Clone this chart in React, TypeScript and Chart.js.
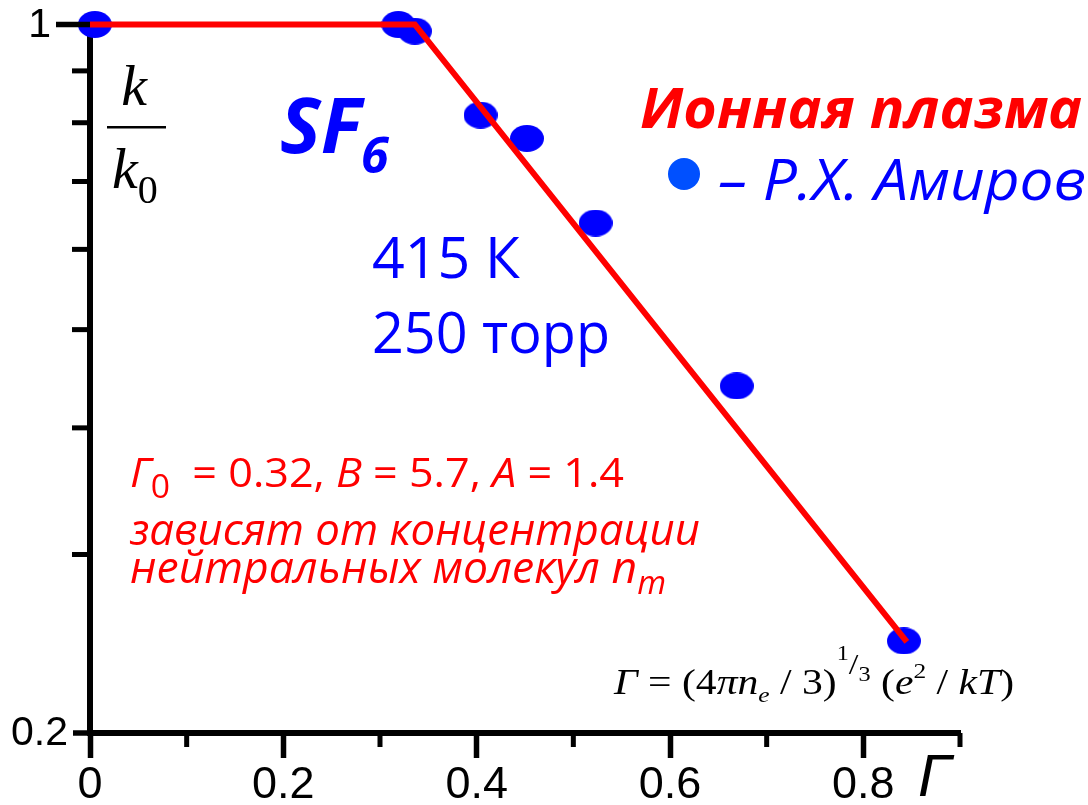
import React, { useEffect, useRef } from "react";
import { Chart, registerables } from "chart.js";

Chart.register(...registerables);

// Measured rate ratio k/k0 against the plasma parameter Г (SF6, 415 K, 250 torr)
const gammaObs = [0.005, 0.319, 0.336, 0.404, 0.452, 0.523, 0.669, 0.842];
const kRatioObs = [1.0, 1.0, 0.985, 0.814, 0.772, 0.637, 0.44, 0.2465];

// Piecewise fit: flat up to Г0, then falling
const gammaFit = [0, 0.336, 0.845];
const kRatioFit = [1.0, 1.0, 0.246];

// Axis ticks
const xMajorTicks = [0, 0.2, 0.4, 0.6, 0.8];
const xMinorTicks = [0.1, 0.3, 0.5, 0.7, 0.9];
const yMajorTicks = [0.2, 1];
const yMinorTicks = [0.3, 0.4, 0.5, 0.6, 0.7, 0.8, 0.9];

const SANS = '"Open Sans", "Noto Sans", sans-serif';
const SERIF = '"Liberation Serif", "DejaVu Serif", serif';
const ARIAL = '"Liberation Sans", Arial, sans-serif';
const RED = "#ff0000";
const BLUE = "#0000ff";

type Run = { t: string; font: string; dy?: number };

// Draws a sequence of differently styled text runs on one baseline,
// optionally squeezed/stretched horizontally to a given width.
function drawRuns(
  ctx: CanvasRenderingContext2D,
  runs: Run[],
  x: number,
  y: number,
  color: string,
  width?: number
) {
  ctx.save();
  ctx.fillStyle = color;
  ctx.textAlign = "left";
  ctx.textBaseline = "alphabetic";
  let total = 0;
  const ws = runs.map((r) => {
    ctx.font = r.font;
    const w = ctx.measureText(r.t).width;
    total += w;
    return w;
  });
  ctx.translate(x, y);
  if (width) ctx.scale(width / total, 1);
  let cx = 0;
  runs.forEach((r, i) => {
    ctx.font = r.font;
    ctx.fillText(r.t, cx, r.dy || 0);
    cx += ws[i];
  });
  ctx.restore();
}

function makeDot(w: number, h: number, color: string) {
  const c = document.createElement("canvas");
  c.width = w;
  c.height = h;
  const g = c.getContext("2d")!;
  g.fillStyle = color;
  g.beginPath();
  g.ellipse(w / 2, h / 2, w / 2, h / 2, 0, 0, Math.PI * 2);
  g.fill();
  return c;
}

const overlay = {
  id: "overlay",
  afterDraw(chart: any) {
    const ctx: CanvasRenderingContext2D = chart.ctx;
    const xs = chart.scales.x;
    const ys = chart.scales.y;
    const axisX = xs.getPixelForValue(0);
    const axisY = ys.getPixelForValue(0.2);

    ctx.save();
    ctx.strokeStyle = "#000";
    ctx.lineCap = "butt";
    ctx.lineWidth = 5;
    // minor x ticks
    xMinorTicks.forEach((v) => {
      const px = xs.getPixelForValue(v);
      ctx.beginPath();
      ctx.moveTo(px, axisY);
      ctx.lineTo(px, axisY + 14);
      ctx.stroke();
    });
    // minor y ticks
    yMinorTicks.forEach((v) => {
      const py = ys.getPixelForValue(v);
      ctx.beginPath();
      ctx.moveTo(axisX - 18, py);
      ctx.lineTo(axisX, py);
      ctx.stroke();
    });
    // labelled y ticks
    ctx.lineWidth = 5.5;
    ctx.fillStyle = "#000";
    ctx.font = `41px ${ARIAL}`;
    ctx.textAlign = "right";
    ctx.textBaseline = "middle";
    yMajorTicks.forEach((v) => {
      const py = ys.getPixelForValue(v);
      const len = v === ys.max ? 34 : 17;
      ctx.beginPath();
      ctx.moveTo(axisX - len, py);
      ctx.lineTo(axisX, py);
      ctx.stroke();
      ctx.fillText(String(v), axisX - len - 5, py + 1);
    });
    ctx.restore();

    // k / k0 axis caption
    ctx.save();
    ctx.fillStyle = "#000";
    ctx.font = `italic 58px ${SERIF}`;
    ctx.textAlign = "center";
    ctx.fillText("k", 134, 105);
    ctx.fillRect(107, 126, 59, 2.5);
    ctx.restore();
    drawRuns(
      ctx,
      [
        { t: "k", font: `italic 58px ${SERIF}` },
        { t: "0", font: `40px ${SERIF}`, dy: 15 },
      ],
      112,
      188,
      "#000"
    );

    // Г axis caption
    drawRuns(ctx, [{ t: "Г", font: `italic 60px ${ARIAL}` }], 918, 796, "#000");

    // SF6
    drawRuns(ctx, [{ t: "SF", font: `italic 700 77px ${SANS}` }], 280, 153, BLUE);
    drawRuns(ctx, [{ t: "6", font: `italic 700 50px ${SANS}` }], 361, 173, BLUE);

    // conditions
    drawRuns(ctx, [{ t: "415 К", font: `57px ${SANS}` }], 372, 278, BLUE, 148);
    drawRuns(ctx, [{ t: "250 торр", font: `57px ${SANS}` }], 372, 353, BLUE, 238);

    // heading and legend
    drawRuns(ctx, [{ t: "Ионная плазма", font: `italic 700 56px ${SANS}` }], 640, 128, RED, 442);
    ctx.save();
    ctx.fillStyle = "#0050ff";
    ctx.beginPath();
    ctx.arc(684, 174, 16, 0, Math.PI * 2);
    ctx.fill();
    ctx.restore();
    drawRuns(ctx, [{ t: "– Р.Х. Амиров", font: `italic 56px ${SANS}` }], 718, 200, BLUE, 368);

    // fit parameters
    drawRuns(
      ctx,
      [
        { t: "Г", font: `italic 41px ${SANS}` },
        { t: "0", font: `32px ${SANS}`, dy: 11 },
        { t: "  = 0.32, ", font: `41px ${SANS}` },
        { t: "В", font: `italic 41px ${SANS}` },
        { t: " = 5.7, ", font: `41px ${SANS}` },
        { t: "А", font: `italic 41px ${SANS}` },
        { t: " = 1.4", font: `41px ${SANS}` },
      ],
      130,
      487,
      RED,
      494
    );
    drawRuns(ctx, [{ t: "зависят от концентрации", font: `italic 43px ${SANS}` }], 130, 545, RED, 570);
    drawRuns(
      ctx,
      [
        { t: "нейтральных молекул n", font: `italic 43px ${SANS}` },
        { t: "m", font: `italic 32px ${SANS}`, dy: 11 },
      ],
      130,
      583,
      RED,
      536
    );

    // definition of Г
    drawRuns(
      ctx,
      [
        { t: "Г", font: `italic 36px ${SERIF}` },
        { t: " = (4", font: `36px ${SERIF}` },
        { t: "πn", font: `italic 36px ${SERIF}` },
        { t: "e", font: `italic 22px ${SERIF}`, dy: 8 },
        { t: " / 3)", font: `36px ${SERIF}` },
        { t: "1", font: `21px ${SERIF}`, dy: -34 },
        { t: "/", font: `30px ${SERIF}`, dy: -20 },
        { t: "3", font: `21px ${SERIF}`, dy: -13 },
        { t: " (", font: `36px ${SERIF}` },
        { t: "e", font: `italic 36px ${SERIF}` },
        { t: "2", font: `22px ${SERIF}`, dy: -16 },
        { t: " / ", font: `36px ${SERIF}` },
        { t: "kT", font: `italic 36px ${SERIF}` },
        { t: ")", font: `36px ${SERIF}` },
      ],
      614,
      694,
      "#000",
      400
    );
  },
};

export default function App() {
  const ref = useRef<HTMLCanvasElement>(null);

  useEffect(() => {
    const canvas = ref.current;
    if (!canvas) return;
    const dot = makeDot(34, 27, BLUE);

    const chart = new Chart(canvas, {
      type: "scatter",
      data: {
        datasets: [
          {
            label: "fit",
            data: gammaFit.map((x, i) => ({ x, y: kRatioFit[i] })),
            showLine: true,
            borderColor: RED,
            borderWidth: 6,
            borderJoinStyle: "miter",
            pointRadius: 0,
            tension: 0,
            order: 0,
            clip: false,
          } as any,
          {
            label: "Р.Х. Амиров",
            data: gammaObs.map((x, i) => ({ x, y: kRatioObs[i] })),
            pointStyle: dot,
            pointRadius: 15,
            backgroundColor: BLUE,
            borderWidth: 0,
            order: 1,
            clip: false,
          } as any,
        ],
      },
      options: {
        responsive: false,
        devicePixelRatio: 1,
        animation: false,
        events: [],
        layout: { padding: { left: 0, top: 24.5, right: 128, bottom: 0 } },
        plugins: { legend: { display: false }, tooltip: { enabled: false } },
        scales: {
          x: {
            type: "linear",
            position: "bottom",
            min: 0,
            max: 0.9,
            z: 1,
            afterBuildTicks: (s: any) => {
              s.ticks = xMajorTicks.map((v) => ({ value: v }));
            },
            afterFit: (s: any) => {
              s.height = 72;
            },
            grid: {
              display: true,
              drawOnChartArea: false,
              drawTicks: true,
              tickLength: 25,
              tickWidth: 5.5,
              tickColor: "#000",
            },
            border: { display: true, color: "#000", width: 6 },
            ticks: {
              color: "#000",
              font: { family: ARIAL, size: 45 },
              padding: 1,
              maxRotation: 0,
              autoSkip: false,
              callback: (v: any) => String(v),
            },
          },
          y: {
            type: "logarithmic",
            position: "left",
            min: 0.2,
            max: 1,
            z: 1,
            afterBuildTicks: (s: any) => {
              s.ticks = yMajorTicks.map((v) => ({ value: v }));
            },
            afterFit: (s: any) => {
              s.width = 90;
            },
            grid: { display: false },
            border: { display: true, color: "#000", width: 6 },
            ticks: { display: false },
          },
        },
      } as any,
      plugins: [overlay],
    });

    return () => chart.destroy();
  }, []);

  return (
    <div
      style={{
        position: "fixed",
        left: 0,
        top: 0,
        width: 1088,
        height: 805,
        background: "#fff",
      }}
    >
      <canvas ref={ref} width={1088} height={805} style={{ display: "block" }} />
    </div>
  );
}
